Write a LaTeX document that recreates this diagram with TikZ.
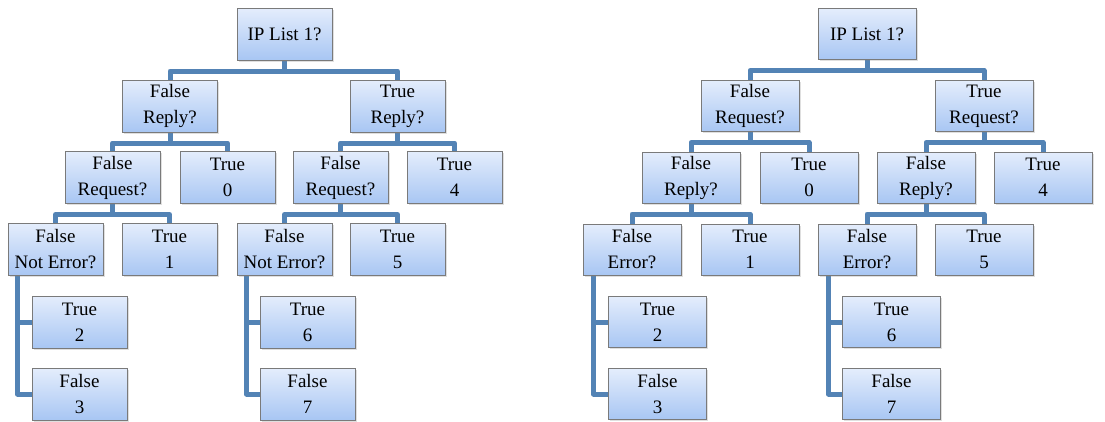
\documentclass[tikz,border=0pt]{standalone}
\usepackage{fontspec}
\setmainfont{Liberation Serif}
\usetikzlibrary{shadows}
\definecolor{linkblue}{HTML}{5383B5}
\definecolor{boxtop}{HTML}{E4EDFC}
\definecolor{boxbot}{HTML}{A8C6F3}
\definecolor{boxedge}{HTML}{7A7A7A}
\pgfdeclarelayer{bg}
\pgfsetlayers{bg,main}
\begin{document}
\begin{tikzpicture}[x=1pt,y=-1pt,
  box/.style={draw=boxedge, line width=1pt, top color=boxtop, bottom color=boxbot,
    minimum width=95pt, minimum height=52pt, inner sep=0pt, align=center,
    font=\fontsize{19}{26}\selectfont,
    drop shadow={opacity=0.25, shadow xshift=1.5pt, shadow yshift=-1.5pt}},
  rbox/.style={box, minimum width=98pt, minimum height=51pt},
  link/.style={draw=linkblue, line width=5pt, line join=round, line cap=butt}]
\useasboundingbox (0,0) rectangle (1105,421);

% ---------- left tree ----------
\node[box] (L0) at (284.5,34) {IP List 1?};
\node[box] (L1a) at (170,106) {False\\Reply?};
\node[box] (L1b) at (397.5,106) {True\\Reply?};
\node[box] (L2a) at (112.5,177.5) {False\\Request?};
\node[box] (L2b) at (227.5,177.5) {True\\0};
\node[box] (L2c) at (340.5,177.5) {False\\Request?};
\node[box] (L2d) at (454.5,177.5) {True\\4};
\node[box] (L3a) at (55.5,249.5) {False\\Not Error?};
\node[box] (L3b) at (169.5,249.5) {True\\1};
\node[box] (L3c) at (284.5,249.5) {False\\Not Error?};
\node[box] (L3d) at (397.5,249.5) {True\\5};
\node[box] (L4a) at (79.5,322) {True\\2};
\node[box] (L4b) at (79.5,394) {False\\3};
\node[box] (L4c) at (307.5,322) {True\\6};
\node[box] (L4d) at (307.5,394) {False\\7};

% ---------- right tree ----------
\node[rbox] (R0) at (867,34) {IP List 1?};
\node[rbox] (R1a) at (750,106) {False\\Request?};
\node[rbox] (R1b) at (984,106) {True\\Request?};
\node[rbox] (R2a) at (691,177.5) {False\\Reply?};
\node[rbox] (R2b) at (809,177.5) {True\\0};
\node[rbox] (R2c) at (926,177.5) {False\\Reply?};
\node[rbox] (R2d) at (1043,177.5) {True\\4};
\node[rbox] (R3a) at (632,249.5) {False\\Error?};
\node[rbox] (R3b) at (750,249.5) {True\\1};
\node[rbox] (R3c) at (867,249.5) {False\\Error?};
\node[rbox] (R3d) at (984,249.5) {True\\5};
\node[rbox] (R4a) at (657.5,322) {True\\2};
\node[rbox] (R4b) at (657.5,394) {False\\3};
\node[rbox] (R4c) at (891.5,322) {True\\6};
\node[rbox] (R4d) at (891.5,394) {False\\7};

% ---------- connectors ----------
\begin{pgfonlayer}{bg}
\foreach \p/\a/\b in {L0/L1a/L1b, L1a/L2a/L2b, L1b/L2c/L2d, L2a/L3a/L3b, L2c/L3c/L3d,
                      R0/R1a/R1b, R1a/R2a/R2b, R1b/R2c/R2d, R2a/R3a/R3b, R2c/R3c/R3d}{
  \draw[link] (\p.south) -- ++(0,10.5) -| (\a.north);
  \draw[link] (\p.south) -- ++(0,10.5) -| (\b.north);
}
\coordinate (Ls1) at ([xshift=10pt]L3a.south west);
\coordinate (Ls2) at ([xshift=10pt]L3c.south west);
\coordinate (Rs1) at ([xshift=11pt]R3a.south west);
\coordinate (Rs2) at ([xshift=11pt]R3c.south west);
\draw[link] (Ls1) |- (L4a.west);
\draw[link] (Ls1) |- (L4b.west);
\draw[link] (Ls2) |- (L4c.west);
\draw[link] (Ls2) |- (L4d.west);
\draw[link] (Rs1) |- (R4a.west);
\draw[link] (Rs1) |- (R4b.west);
\draw[link] (Rs2) |- (R4c.west);
\draw[link] (Rs2) |- (R4d.west);
\end{pgfonlayer}
\end{tikzpicture}
\end{document}
